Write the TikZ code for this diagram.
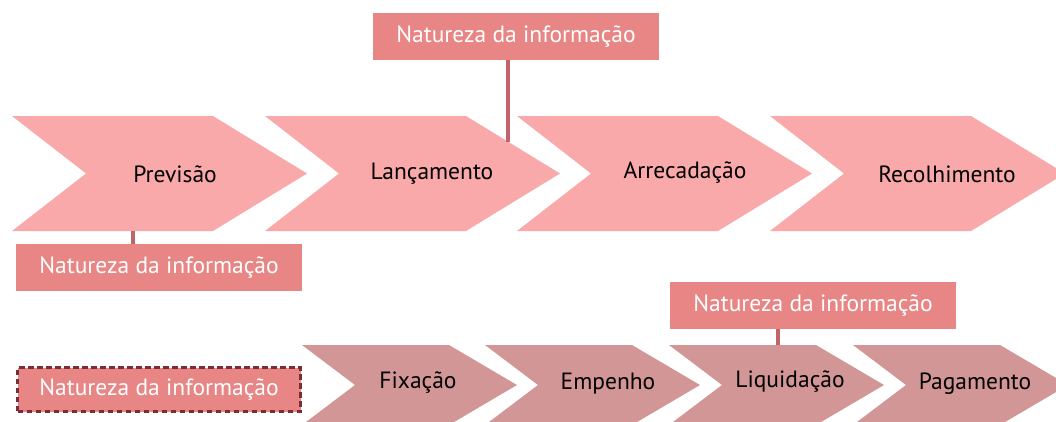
\documentclass[tikz,border=0pt]{standalone}
\usepackage{fontspec}
\setmainfont{PT Sans}
\definecolor{chevA}{HTML}{F9A9A9}
\definecolor{chevB}{HTML}{D39696}
\definecolor{boxC}{HTML}{E88585}
\definecolor{linkC}{HTML}{C2636B}
\definecolor{dashC}{HTML}{7C2C33}
\tikzset{
  chevtop/.style={fill=chevA, draw=none},
  chevbot/.style={fill=chevB, draw=none},
  infobox/.style={fill=boxC, draw=none, minimum width=286pt, minimum height=47pt, inner sep=0pt, text=white, font=\fontsize{23.5}{26}\selectfont},
  dashbox/.style={infobox, draw=dashC, line width=3pt, dash pattern=on 5.5pt off 3.5pt, minimum width=283pt, minimum height=44pt},
  steplabel/.style={text=black, font=\fontsize{23.5}{26}\selectfont, inner sep=0pt},
  link/.style={draw=linkC, line width=3.2pt}
}
\begin{document}
\begin{tikzpicture}[x=1pt, y=-1pt]
\useasboundingbox (0,0) rectangle (1056,421);
\clip (0,0) rectangle (1056,421);
% top row chevrons
\foreach \xo in {12,265,517,770} {
  \fill[chevtop] (\xo,116) -- (\xo+201,116) -- (\xo+295,173.5) -- (\xo+201,231) -- (\xo,231) -- (\xo+74,173.5) -- cycle;
}
\node[steplabel] (prev) at (175,174) {Previsão};
\node[steplabel] (lanc) at (432,174) {Lançamento};
\node[steplabel] (arre) at (685,173) {Arrecadação};
\node[steplabel] (reco) at (947,174) {Recolhimento};
% bottom row chevrons
\foreach \xo in {302,485,669,853} {
  \fill[chevbot] (\xo,345) -- (\xo+147,345) -- (\xo+215,385) -- (\xo+147,425) -- (\xo,425) -- (\xo+53,385) -- cycle;
}
\node[steplabel] (fixa) at (418,383) {Fixação};
\node[steplabel] (empe) at (608,384) {Empenho};
\node[steplabel] (liqu) at (790,382) {Liquidação};
\node[steplabel] (paga) at (975,384) {Pagamento};
% info boxes
\node[infobox] (nt1) at (516,36.5) {Natureza da informação};
\node[infobox] (nt2) at (159,267.5) {Natureza da informação};
\node[infobox] (nt3) at (813,305.5) {Natureza da informação};
\node[dashbox] (nt4) at (159,389.5) {Natureza da informação};
% connectors
\coordinate (c1) at (508,141.5);
\coordinate (c2) at (133,231);
\coordinate (c3) at (778,345);
\draw[link] (nt1.south -| c1) -- (c1);
\draw[link] (nt2.north -| c2) -- (c2);
\draw[link] (nt3.south -| c3) -- (c3);
\end{tikzpicture}
\end{document}
